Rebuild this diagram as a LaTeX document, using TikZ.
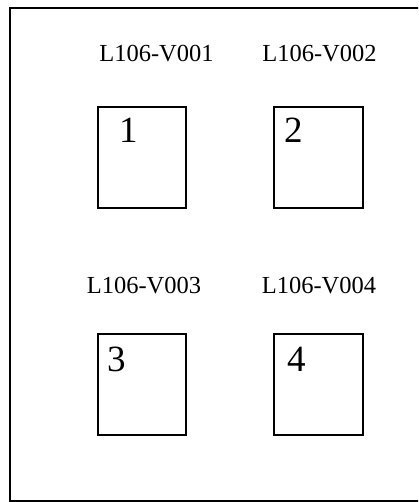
\documentclass[tikz,border=0pt]{standalone}
\usepackage{fontspec}
\setmainfont{Liberation Serif}
\begin{document}
\begin{tikzpicture}[x=1pt,y=-1pt,
  vbox/.style={draw=black,line width=2pt},
  lbl/.style={inner sep=0pt,anchor=base,font=\fontsize{24.5}{26}\selectfont},
  num/.style={inner sep=0pt,anchor=base west,font=\fontsize{37}{40}\selectfont}]
\useasboundingbox (0,0) rectangle (418,502);
\clip (0,0) rectangle (418,502);
\fill[white] (0,0) rectangle (418,502);
\draw[line width=2pt] (430,8) -- (10,8) -- (10,500.5) -- (430,500.5);
% boxes
\draw[vbox] (98,107) rectangle (186,208);
\draw[vbox] (274,107) rectangle (363,208);
\draw[vbox] (98,334) rectangle (186,435);
\draw[vbox] (274,334) rectangle (363,435);
% labels
\node[lbl] (l1) at (156.5,62) {L106-V001};
\node[lbl] (l2) at (319.5,62) {L106-V002};
\node[lbl] (l3) at (144,293) {L106-V003};
\node[lbl] (l4) at (319,293) {L106-V004};
% numbers
\node[num] (n1) at (119,143) {1};
\node[num] (n2) at (284,143) {2};
\node[num] (n3) at (107,371) {3};
\node[num] (n4) at (287,371) {4};
\end{tikzpicture}
\end{document}
